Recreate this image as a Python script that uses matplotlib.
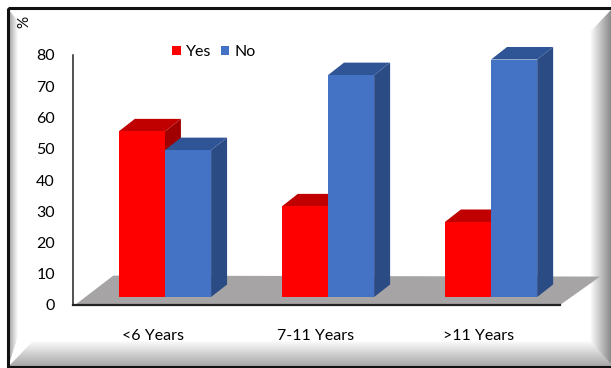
import numpy as np
import matplotlib
matplotlib.use('Agg')
import matplotlib.pyplot as plt
from matplotlib.patches import Polygon, Rectangle
from matplotlib.colors import LinearSegmentedColormap

plt.rcParams['font.family'] = ['Lato', 'DejaVu Sans']

# data
categories = ['<6 Years', '7-11 Years', '>11 Years']
yes_vals = [53, 29, 24]
no_vals = [47, 71, 76]
y_ticks = [0, 10, 20, 30, 40, 50, 60, 70, 80]

# 3d look (data units)
bar_w = 0.283
depth_x = 0.098      # sideways shift of the back face
depth_y = 4.0        # upward shift of the back face
base = 2.56          # bars stand in the middle of the floor
floor_dx = 0.235
floor_dy = 9.4

yes_cols = ('#FF0000', '#C00000', '#A00000')   # front, top, side
no_cols = ('#4472C4', '#2F5597', '#2B4B85')

fig = plt.figure(figsize=(6.11, 3.68), dpi=100)

# ---- frame / bevel in pixel coordinates
bg = fig.add_axes([0, 0, 1, 1], zorder=0)
bg.set_xlim(0, 611)
bg.set_ylim(368, 0)
bg.axis('off')


def bevel(poly, extent, horizontal, c_from, c_to):
    cmap = LinearSegmentedColormap.from_list('b', [c_from, c_to])
    g = np.linspace(0, 1, 256)
    img = g[None, :] if horizontal else g[:, None]
    im = bg.imshow(img, cmap=cmap, extent=extent, aspect='auto', origin='upper')
    p = Polygon(poly, closed=True, fc='none', ec='none', transform=bg.transData)
    bg.add_patch(p)
    im.set_clip_path(p)


bevel([(8, 9), (18, 21), (18, 336), (8, 367)], (8, 18, 368, 8), True, '#999999', '#ffffff')
bevel([(590, 32), (611, 10), (611, 368), (590, 341)], (590, 611, 368, 8), True, '#ffffff', '#8a8a8a')
bevel([(8, 367), (33, 341), (590, 341), (611, 364), (611, 368), (8, 368)],
      (8, 611, 368, 340), False, '#ffffff', '#a0a0a0')
bg.add_patch(Rectangle((8, 8), 620, 359, fill=False, ec='#111111', lw=2.2))
bg.set_xlim(0, 611)
bg.set_ylim(368, 0)

# ---- chart
ax = fig.add_axes([73 / 611, 63 / 368, 487 / 611, 250 / 368], zorder=2)
ax.patch.set_alpha(0)
ax.set_xlim(-0.564, 2.423)
ax.set_ylim(0, 80)

x = np.arange(len(categories))
x0, x1 = ax.get_xlim()

# floor
ax.add_patch(Polygon([(x0 + 0.012, 0), (x0 + 0.012 + floor_dx, floor_dy),
                      (x1 + floor_dx + 0.011, floor_dy - 0.3), (x1, 0)],
                     closed=True, fc='#A6A4A4', ec='none', clip_on=False, zorder=1))


def bar3d(xs, vals, cols, label):
    bars = ax.bar(xs, vals, bar_w, bottom=base, align='edge', color=cols[0],
                  label=label, zorder=3)
    for b in bars:
        l, w = b.get_x(), b.get_width()
        bot, top = b.get_y(), b.get_y() + b.get_height()
        side = Polygon([(l + w, bot), (l + w + depth_x, bot + depth_y),
                        (l + w + depth_x, top + depth_y), (l + w, top)],
                       closed=True, fc=cols[2], ec='none', clip_on=False, zorder=3)
        lid = Polygon([(l, top), (l + w, top), (l + w + depth_x, top + depth_y),
                       (l + depth_x, top + depth_y)],
                      closed=True, fc=cols[1], ec='none', clip_on=False, zorder=3)
        ax.add_patch(side)
        ax.add_patch(lid)
        b.remove()
        ax.add_patch(b)
    return bars


bar3d(x - bar_w, yes_vals, yes_cols, 'Yes')
bar3d(x, no_vals, no_cols, 'No')

for s in ['top', 'right']:
    ax.spines[s].set_visible(False)
ax.spines['left'].set_color('#222222')
ax.spines['bottom'].set_color('#222222')
ax.spines['left'].set_linewidth(1.1)
ax.spines['bottom'].set_linewidth(1.6)
ax.spines['bottom'].set_zorder(4)

ax.set_yticks(y_ticks)
ax.set_xticks(x - 0.074)
ax.set_xticklabels(categories)
ax.tick_params(axis='y', length=0, pad=13, labelsize=11.5)
ax.tick_params(axis='x', length=0, pad=17, labelsize=11.5)

fig.text(24 / 611, 1 - 22 / 368, '%', rotation=90, ha='center', va='center', fontsize=11)

h, l = ax.get_legend_handles_labels()
fig.legend(h, l, loc='center left', bbox_to_anchor=(164 / 611, 1 - 52 / 368), ncol=2,
           frameon=False, fontsize=11.5, handlelength=0.55, handleheight=0.55,
           handletextpad=0.3, columnspacing=0.6, borderpad=0)

fig.savefig('out.png', dpi=100)
